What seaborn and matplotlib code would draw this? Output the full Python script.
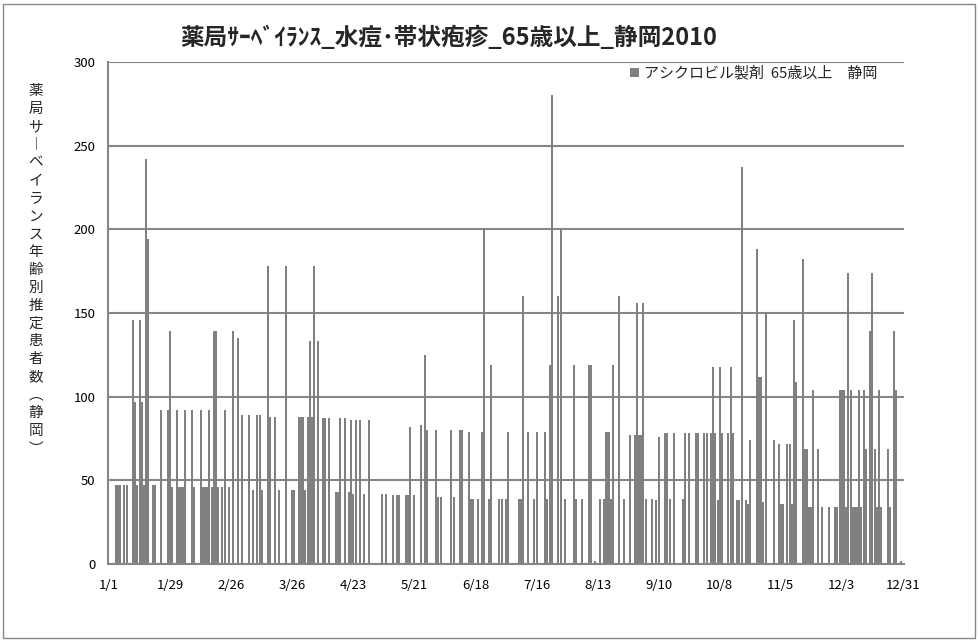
import numpy as np
import pandas as pd
import matplotlib
matplotlib.use("Agg")
import matplotlib.pyplot as plt
import seaborn as sns
from matplotlib.patches import Rectangle, Patch

title = "薬局ｻｰﾍﾞｲﾗﾝｽ_水痘･帯状疱疹_65歳以上_静岡2010"
series_name = "アシクロビル製剤  65歳以上　静岡"
ylabel_chars = "薬局サ︱ベイランス年齢別推定患者数︵静岡︶"
tick_labels = ["1/1", "1/29", "2/26", "3/26", "4/23", "5/21", "6/18",
               "7/16", "8/13", "9/10", "10/8", "11/5", "12/3", "12/31"]

# daily estimated patients, 2010-01-01 .. 2010-12-31 (4 weeks per row)
counts = [
    0, 0, 0, 47, 47, 47, 0, 47, 47, 0, 0, 146, 97, 47, 146, 97, 47, 242, 194, 0, 47, 47, 0, 0, 92, 0, 0, 92,
    139, 46, 0, 92, 46, 46, 46, 92, 0, 0, 92, 46, 0, 0, 92, 46, 46, 46, 92, 46, 139, 139, 46, 0, 46, 92, 0, 46,
    0, 139, 0, 135, 0, 89, 0, 0, 89, 0, 44, 0, 89, 89, 44, 0, 0, 178, 88, 0, 88, 0, 44, 0, 0, 178, 0, 0,
    44, 44, 0, 88, 88, 88, 44, 88, 133, 88, 178, 0, 133, 0, 87, 87, 0, 87, 0, 0, 43, 43, 87, 0, 87, 0, 43, 86,
    42, 86, 0, 86, 0, 42, 0, 86, 0, 0, 0, 0, 0, 42, 0, 42, 0, 0, 41, 0, 41, 41, 0, 0, 41, 41, 82, 0,
    41, 0, 0, 83, 0, 125, 80, 0, 0, 0, 80, 40, 40, 0, 0, 0, 0, 80, 40, 0, 0, 80, 80, 0, 0, 79, 39, 39,
    0, 39, 0, 79, 200, 0, 39, 119, 0, 0, 0, 39, 39, 0, 39, 79, 0, 0, 0, 0, 39, 39, 160, 0, 79, 0, 0, 39,
    79, 0, 0, 0, 79, 39, 119, 280, 0, 0, 160, 200, 0, 39, 0, 0, 0, 119, 39, 0, 0, 39, 0, 0, 119, 119, 0, 2,
    0, 39, 0, 39, 79, 79, 39, 119, 0, 0, 160, 0, 39, 0, 0, 77, 0, 77, 156, 77, 77, 156, 39, 0, 0, 39, 0, 38,
    76, 0, 0, 78, 78, 39, 0, 78, 0, 0, 0, 39, 78, 0, 78, 0, 0, 78, 78, 0, 0, 78, 78, 0, 78, 118, 78, 38,
    118, 78, 0, 0, 78, 118, 78, 0, 38, 38, 237, 0, 38, 36, 74, 0, 0, 188, 112, 112, 37, 150, 0, 0, 0, 74, 0, 72,
    36, 36, 0, 72, 72, 36, 146, 109, 0, 0, 182, 69, 69, 34, 34, 104, 0, 69, 0, 34, 0, 0, 34, 0, 0, 34, 34, 104,
    104, 104, 34, 174, 104, 34, 34, 34, 104, 34, 104, 69, 0, 139, 174, 69, 34, 104, 34, 0, 0, 69, 34, 0, 139, 104, 0, 2,
    0,
]

sns.set_theme(style="white")
plt.rcParams['font.family'] = ['Noto Sans CJK JP', 'DejaVu Sans']

W, H = 979, 641
fig = plt.figure(figsize=(W / 100, H / 100), dpi=100)
fig.patch.set_facecolor("white")
fig.patches.append(Rectangle((3 / W, 3 / H), 972 / W, 634 / H, transform=fig.transFigure,
                             fill=False, edgecolor="#868686", lw=1.0))

ax = fig.add_axes([108 / W, 1 - 564 / H, (904 - 108) / W, (564 - 62) / H])
df = pd.DataFrame({"day": np.arange(len(counts)), "count": counts})
sns.barplot(data=df, x="day", y="count", native_scale=True, color="#808080",
            saturation=1, width=0.92, linewidth=0, errorbar=None, ax=ax)

ax.set_xlim(-0.5, len(counts) - 0.5)
ax.set_ylim(0, 300)
ax.set_yticks(range(0, 301, 50))
ax.set_xticks(range(0, len(counts), 28))
ax.set_xticklabels(tick_labels)
ax.tick_params(axis="x", length=0, pad=11, labelsize=9.5, colors="black")
ax.tick_params(axis="y", length=0, pad=9, labelsize=9.5, colors="black")
ax.set_xlabel("")
ax.set_ylabel("")
ax.grid(axis="y", color="#868686", lw=1.5)
ax.grid(axis="x", visible=False)
ax.set_axisbelow(True)
for s in ["top", "right"]:
    ax.spines[s].set_visible(False)
for s in ["left", "bottom"]:
    ax.spines[s].set_color("#868686")
    ax.spines[s].set_linewidth(1.5)

ax.legend(handles=[Patch(facecolor="#808080", edgecolor="none", label=series_name)],
          loc="upper left", bbox_to_anchor=(630 / W, 1 - 66 / H), bbox_transform=fig.transFigure,
          frameon=False, handlelength=0.6, handleheight=0.6, handletextpad=0.35,
          borderaxespad=0, borderpad=0, fontsize=10.8)

fig.text(449 / W, 1 - 38 / H, title, ha="center", va="center", fontsize=17, fontweight="bold")
fig.text(36 / W, 1 - 270 / H, "\n".join(ylabel_chars), ha="center", va="center",
         fontsize=10.5, linespacing=1.35)

fig.savefig("out.png", dpi=100)
